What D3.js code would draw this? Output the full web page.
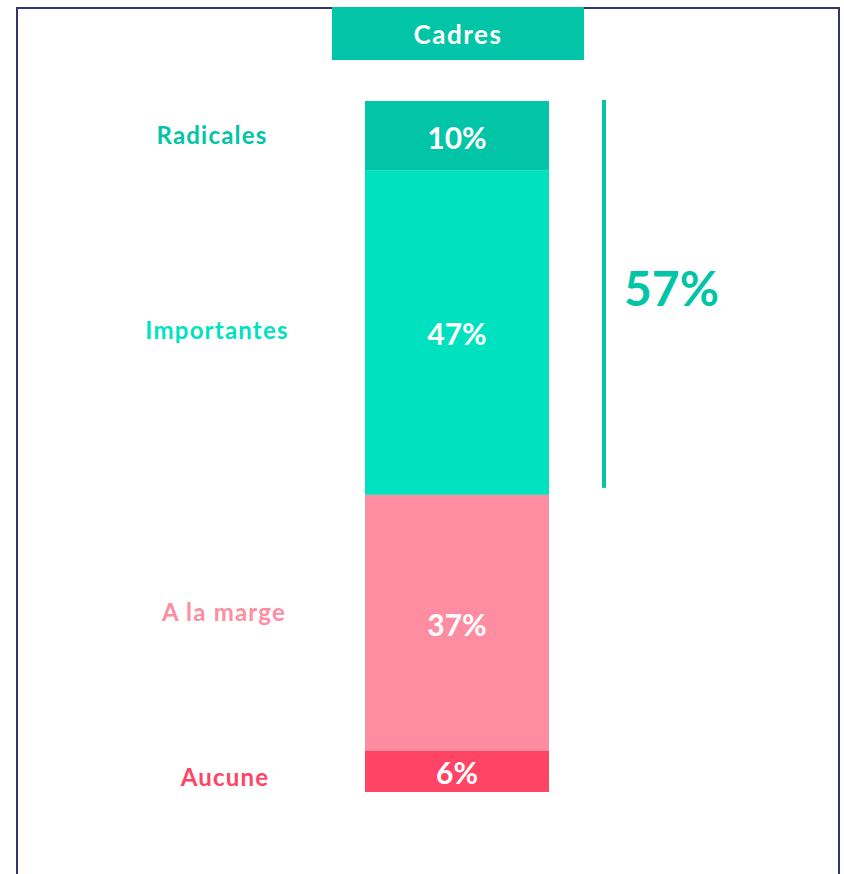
<!DOCTYPE html>
<html><head><meta charset="utf-8">
<script src="https://cdn.jsdelivr.net/npm/d3@7"></script>
<style>body{margin:0;background:#fff;}svg{display:block;font-family:Lato,"Open Sans",sans-serif;}</style>
</head><body>
<script>
const group = "Cadres";
const categories = ["Radicales", "Importantes", "A la marge", "Aucune"];
const values = [10, 47, 37, 6];
const colors = ["#02C4A7", "#00E2BF", "#FF8DA1", "#FF4466"];
const positiveTotalLabel = "57%";
const positiveCount = 2;

const W = 844, H = 874;
const svg = d3.select("body").append("svg").attr("width", W).attr("height", H);

// frame
svg.append("rect").attr("x", 17).attr("y", 8).attr("width", 822).attr("height", 900)
  .attr("fill", "none").attr("stroke", "#34356C").attr("stroke-width", 2);

// title box
svg.append("rect").attr("x", 332).attr("y", 7).attr("width", 252).attr("height", 53).attr("fill", "#02C4A7");
svg.append("text").attr("x", 458).attr("y", 34).attr("text-anchor", "middle").attr("dominant-baseline", "central")
  .attr("fill", "#fff").attr("font-size", 26).attr("font-weight", 700).attr("letter-spacing", 1.5).text(group);

const y = d3.scaleLinear().domain([0, 100]).range([101, 792]);
const x = d3.scaleBand().domain([group]).range([365, 549]).padding(0);

let cum = 0;
const segs = values.map((v, i) => { const s = {cat: categories[i], v, c: colors[i], y0: cum, y1: cum + v}; cum += v; return s; });

const g = svg.append("g");
g.selectAll("rect.seg").data(segs).join("rect").attr("class", "seg")
  .attr("x", x(group)).attr("width", x.bandwidth())
  .attr("y", d => y(d.y0)).attr("height", d => y(d.y1) - y(d.y0))
  .attr("fill", d => d.c);

g.selectAll("text.val").data(segs).join("text").attr("class", "val")
  .attr("x", x(group) + x.bandwidth() / 2)
  .attr("y", d => (y(d.y0) + y(d.y1)) / 2 + 1)
  .attr("text-anchor", "middle").attr("dominant-baseline", "central")
  .attr("fill", "#fff").attr("font-size", 30).attr("font-weight", 700)
  .text(d => d.v + "%");

const labelDy = [-1, -3, -11, 5];
const labelDx = [-7, -2, 5, 6];
g.selectAll("text.cat").data(segs).join("text").attr("class", "cat")
  .attr("x", (d, i) => 219 + labelDx[i])
  .attr("y", (d, i) => (y(d.y0) + y(d.y1)) / 2 + labelDy[i])
  .attr("text-anchor", "middle").attr("dominant-baseline", "central")
  .attr("fill", d => d.c).attr("font-size", 24).attr("font-weight", 700).attr("letter-spacing", 1.2)
  .text(d => d.cat);

// bracket for positive total
const posSum = d3.sum(values.slice(0, positiveCount));
svg.append("rect").attr("x", 602).attr("y", y(0) - 1).attr("width", 4).attr("height", y(posSum) - y(0) - 6)
  .attr("fill", "#02C4A7");
svg.append("text").attr("x", 624).attr("y", 287).attr("dominant-baseline", "central")
  .attr("fill", "#02C4A7").attr("font-size", 48).attr("font-weight", 700).text(positiveTotalLabel);
</script>
</body></html>
